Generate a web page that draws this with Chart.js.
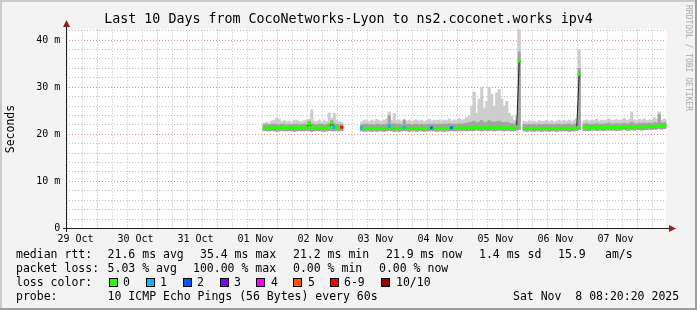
<!DOCTYPE html>
<html><head><meta charset="utf-8">
<script src="https://cdn.jsdelivr.net/npm/chart.js@4"></script>
<style>
html,body{margin:0;padding:0;background:#f3f3f3;}
#wrap{position:relative;width:697px;height:310px;overflow:hidden;}
canvas{position:absolute;left:0;top:0;}
.t{position:absolute;font-family:'DejaVu Sans Mono',monospace;font-size:11.5px;line-height:13px;color:#000;white-space:pre;}
.box{position:absolute;width:7px;height:7px;border:1px solid #000;}
#wm{position:absolute;left:684px;top:5px;font-family:'DejaVu Sans Mono',monospace;font-size:8px;line-height:9px;color:#a8a8a8;writing-mode:vertical-rl;white-space:pre;}
</style></head>
<body><div id="wrap"><canvas id="c" width="697" height="310"></canvas><div id="legend"></div><div id="wm">RRDTOOL / TOBI OETIKER</div></div>
<script>
// ---- data (hours after 29 Oct 00:00, 1 h bins, first bin centre) ----
const firstBinHour = 87.5;
const dayLabels = ['29 Oct','30 Oct','31 Oct','01 Nov','02 Nov','03 Nov','04 Nov','05 Nov','06 Nov','07 Nov'];
const yLabelValues = [0, 10, 20, 30, 40];
const yLabelTexts = ['0', '10 m', '20 m', '30 m', '40 m'];

const median = [
21.4,21.4,21.3,21.4,21.4,21.3,21.4,21.4,21.5,21.4,
21.3,21.4,21.4,21.3,21.4,21.4,21.5,21.4,22.3,21.5,
21.4,21.3,21.4,21.4,21.3,21.4,21.5,22.4,21.5,21.4,
21.4,21.5,
null,null,null,null,null,null,null,
21.4,21.3,21.3,21.2,21.3,21.3,21.2,21.3,21.3,21.2,21.3,
21.7,21.3,21.3,21.2,21.3,21.3,21.5,21.3,21.2,21.3,
21.3,21.2,21.3,21.3,21.2,21.3,21.3,21.4,21.3,21.2,
21.3,21.3,21.2,21.3,21.3,21.4,21.3,21.3,21.4,21.3,
21.4,21.3,21.4,21.4,21.4,21.5,21.4,21.3,21.5,21.4,
21.4,21.5,21.3,21.4,21.5,21.4,21.3,21.4,21.4,21.3,
21.3,21.6,35.6,null,21.3,21.2,21.3,21.3,21.2,21.3,
21.3,21.2,21.3,21.3,21.2,21.3,21.3,21.2,21.3,21.3,
21.3,21.3,21.2,21.3,21.3,21.4,32.8,null,21.5,21.5,
21.4,21.5,21.5,21.4,21.5,21.5,21.4,21.5,21.5,21.5,
21.5,21.4,21.5,21.5,21.6,21.5,21.5,21.6,21.5,21.6,
21.6,21.5,21.6,21.6,21.7,21.6,21.7,21.7,21.8,21.7,
21.8,21.9];

const smokeLow = [
20.8,20.7,20.7,20.8,20.7,20.6,20.7,20.8,20.7,20.7,
20.8,20.7,20.6,20.7,20.8,20.7,20.7,20.8,20.7,20.6,
20.7,20.8,20.7,20.7,20.6,20.7,20.8,20.7,20.7,20.8,
20.7,20.8,
null,null,null,null,null,null,null,
20.7,20.6,20.7,20.7,20.6,20.7,20.6,20.7,20.7,20.6,20.7,
20.8,20.7,20.6,20.7,20.6,20.7,20.8,20.7,20.6,20.7,
20.7,20.6,20.7,20.7,20.6,20.7,20.7,20.8,20.7,20.6,
20.7,20.7,20.6,20.7,20.7,20.8,20.7,20.7,20.8,20.7,
20.8,20.7,20.8,20.8,20.8,20.9,20.8,20.7,20.9,20.8,
20.8,20.9,20.7,20.8,20.9,20.8,20.7,20.8,20.8,20.7,
20.7,20.9,21.0,null,20.7,20.6,20.7,20.7,20.6,20.7,
20.7,20.6,20.7,20.7,20.6,20.7,20.7,20.6,20.7,20.7,
20.7,20.7,20.6,20.7,20.7,20.8,21.0,null,20.8,20.8,
20.8,20.9,20.9,20.8,20.9,20.9,20.8,20.9,20.9,20.9,
20.9,20.8,20.9,20.9,21.0,20.9,20.9,21.0,20.9,21.0,
21.0,20.9,21.0,21.0,21.1,21.0,21.1,21.1,21.2,21.1,
21.2,21.3];

const smokeHigh = [
22.0,22.1,22.0,22.1,22.2,22.1,22.0,22.1,22.2,22.0,
22.1,22.0,22.1,22.2,22.0,22.1,22.2,22.1,22.8,22.3,
22.1,22.0,22.2,22.1,22.0,22.1,22.3,22.9,22.3,22.1,
22.0,22.1,
null,null,null,null,null,null,null,
22.0,22.1,22.2,22.0,22.1,22.0,22.2,22.1,22.0,22.1,22.2,
24.0,22.2,22.3,22.1,22.2,22.0,23.0,22.1,22.2,22.0,
22.1,22.2,22.0,22.1,22.0,22.1,22.2,22.1,22.2,22.1,
22.2,22.1,22.2,22.1,22.3,22.1,22.2,22.1,22.3,22.2,
22.3,22.4,22.5,22.6,22.8,22.4,22.6,22.9,22.5,22.6,
22.9,22.7,22.5,22.7,22.8,22.6,22.5,22.6,22.4,22.3,
22.2,22.8,37.5,null,22.1,22.0,22.1,22.0,22.1,22.0,
22.1,22.0,22.1,22.2,22.0,22.1,22.0,22.1,22.2,22.0,
22.1,22.1,22.2,22.0,22.1,22.3,34.0,null,22.2,22.3,
22.1,22.2,22.2,22.3,22.1,22.2,22.2,22.3,22.4,22.2,
22.2,22.3,22.2,22.3,22.4,22.2,22.3,22.6,22.3,22.2,
22.4,22.3,22.4,22.3,22.4,22.3,22.5,22.4,24.2,22.4,
22.5,22.5];

const smokeTop = [
22.4,22.6,22.3,22.8,23.0,23.4,23.2,22.7,22.9,22.6,
22.8,22.5,22.9,23.0,22.7,22.6,22.9,23.1,23.2,25.2,
22.8,22.7,23.0,22.6,22.9,22.7,24.5,23.4,24.4,23.0,
22.7,22.5,
null,null,null,null,null,null,null,
22.6,22.9,23.1,22.7,23.0,22.8,23.2,22.9,22.7,23.0,23.3,
24.8,23.0,24.4,22.9,23.1,22.7,23.2,22.8,23.0,22.7,
22.9,23.1,22.8,23.0,22.7,22.9,23.2,22.8,23.0,22.9,
23.1,22.8,23.0,22.9,23.3,22.8,23.1,22.9,23.4,23.0,
23.2,23.6,23.9,26.0,29.0,24.5,27.5,30.0,25.5,27.0,
30.0,28.5,26.0,28.8,29.5,27.5,26.0,27.0,24.5,23.8,
23.0,24.0,43.0,null,22.8,22.6,22.9,22.7,22.8,22.6,
22.9,22.7,22.8,23.0,22.7,22.9,22.6,22.8,23.0,22.7,
22.9,22.8,23.1,22.7,23.0,23.4,38.0,null,22.9,23.1,
22.8,23.0,22.9,23.2,22.8,23.0,22.9,23.1,23.3,22.9,
23.0,23.2,22.9,23.1,23.4,23.0,23.2,24.8,23.1,22.9,
23.2,23.0,23.3,22.9,23.1,23.0,23.5,23.2,24.8,23.0,
23.3,23.1];

// loss class per bin: index into lossColors / lossLabels
const lossClass = [
0,0,0,0,0,0,0,0,0,0, 0,0,0,0,0,0,0,0,0,0, 0,0,0,0,0,0,0,0,1,0, 0,6,
0,0,0,0,0,0,0,
1,0,0,0,0,0,0,0,0,0,0,
1,0,0,0,0,0,1,0,0,0, 0,0,0,0,0,0,0,2,0,0, 0,0,0,0,0,2,0,0,0,0,
0,0,0,0,0,0,0,0,0,0, 0,0,0,0,0,0,0,0,0,0, 0,0,0,0,0,0,0,0,0,0,
0,0,0,0,0,0,0,0,0,0, 0,0,0,0,0,0,0,0,0,0, 0,0,0,0,0,0,0,0,0,0,
0,0,0,0,0,0,0,0,0,0, 0,0,0,0,0,0,0,0,0,0, 0,0];

const lossColors = ['#26ff00','#00b8ff','#0059ff','#7e00ff','#ff00ff','#ff5500','#ff0000','#a10000'];
const lossLabels = ['0','1','2','3','4','5','6-9','10/10'];

// ---- build datasets ----
const hours = median.map((_, i) => firstBinHour + i);
function floating(lo, hi) {
  const out = [];
  hours.forEach((h, i) => { if (lo[i] != null && hi[i] != null) out.push({x: h, y: [lo[i], hi[i]]}); });
  return out;
}
const bandHalf = 0.25;
const bandData = [];
hours.forEach((h, i) => { if (median[i] != null) bandData.push({x: h, y: [median[i] - bandHalf, median[i] + bandHalf], loss: lossClass[i]}); });
const lineData = hours.map((h, i) => ({x: h, y: median[i]}));

const FONT = 'DejaVu Sans Mono';
const MINOR = 'rgba(185,185,185,0.9)';
const MAJOR = 'rgba(230,130,130,0.9)';

const decor = {
  id: 'decor',
  beforeDraw(chart) {
    const {ctx, chartArea: a} = chart;
    ctx.save();
    ctx.fillStyle = '#f3f3f3'; ctx.fillRect(0, 0, 697, 310);
    ctx.fillStyle = '#cbcbcb'; ctx.fillRect(0, 0, 697, 2); ctx.fillRect(0, 0, 2, 310);
    ctx.fillStyle = '#9c9c9c'; ctx.fillRect(695, 0, 2, 310); ctx.fillRect(0, 308, 697, 2);
    ctx.fillStyle = '#ffffff'; ctx.fillRect(a.left, a.top, a.right - a.left, a.bottom - a.top);
    ctx.restore();
  },
  afterDraw(chart) {
    const {ctx, chartArea: a} = chart;
    const x0 = Math.floor(a.left), y0 = Math.floor(a.bottom);
    ctx.save();
    ctx.fillStyle = '#202020';
    ctx.fillRect(x0 - 3, y0, Math.round(a.right) - x0 + 7, 1);
    ctx.fillRect(x0, Math.round(a.top) - 4, 1, y0 - Math.round(a.top) + 8);
    ctx.fillStyle = '#961e1e';
    ctx.beginPath();
    ctx.moveTo(x0 + 0.5, 20); ctx.lineTo(x0 - 3, 27); ctx.lineTo(x0 + 4, 27); ctx.closePath(); ctx.fill();
    const xr = Math.round(a.right) + 3;
    ctx.beginPath();
    ctx.moveTo(xr + 7, y0 + 0.5); ctx.lineTo(xr, y0 - 3); ctx.lineTo(xr, y0 + 4); ctx.closePath(); ctx.fill();
    ctx.restore();
  }
};

const xTicks = []; for (let v = 12; v <= 246; v += 6) xTicks.push(v);
const yTicks = []; for (let v = 0; v <= 42; v += 2) yTicks.push(v);

new Chart(document.getElementById('c'), {
  type: 'bar',
  data: { datasets: [
    { type: 'bar', data: bandData, yAxisID: 'y', grouped: false, order: 0, borderWidth: 0,
      backgroundColor: c => lossColors[(c.raw && c.raw.loss) || 0],
      barPercentage: 1, categoryPercentage: 1 },
    { type: 'line', data: lineData, yAxisID: 'y', order: 1, borderColor: '#202020', borderWidth: 1,
      pointRadius: 0, tension: 0, spanGaps: false, fill: false },
    { type: 'bar', data: floating(smokeLow, smokeHigh), yAxisID: 'y', grouped: false, order: 2, borderWidth: 0,
      backgroundColor: '#a2a2a2', barPercentage: 1, categoryPercentage: 1 },
    { type: 'bar', data: floating(smokeLow, smokeTop), yAxisID: 'y', grouped: false, order: 3, borderWidth: 0,
      backgroundColor: '#cdcdcd', barPercentage: 1, categoryPercentage: 1 }
  ]},
  options: {
    responsive: false, animation: false, devicePixelRatio: 1,
    layout: { padding: { left: 0, right: 0, top: 0, bottom: 61.5 } },
    plugins: {
      legend: { display: false }, tooltip: { enabled: false },
      title: { display: true, text: 'Last 10 Days from CocoNetworks-Lyon to ns2.coconet.works ipv4',
        color: '#000', font: { family: FONT, size: 13.3, weight: 'normal' }, padding: { top: 11.2, bottom: 2.4 } }
    },
    scales: {
      x: { type: 'linear', min: 8.3333, max: 248.3333, offset: false,
        afterBuildTicks: s => { s.ticks = xTicks.map(v => ({value: v})); },
        afterFit: s => { s.height = 20; },
        grid: { drawTicks: false, lineWidth: 1, color: c => (c.tick && c.tick.value % 24 === 0) ? MAJOR : MINOR },
        border: { display: false, dash: [1, 2] },
        ticks: { autoSkip: false, maxRotation: 0, minRotation: 0, padding: 5, color: '#000',
          font: { family: FONT, size: 10 },
          callback: v => (v % 24 === 12) ? dayLabels[(v - 12) / 24] : '' } },
      y: { type: 'linear', position: 'left', min: 0, max: 42.25,
        afterBuildTicks: s => { s.ticks = yTicks.map(v => ({value: v})); },
        afterFit: s => { s.width = 66.33; },
        grid: { drawTicks: false, lineWidth: 1, color: c => (c.tick && c.tick.value % 10 === 0) ? MAJOR : MINOR },
        border: { display: false, dash: [1, 2] },
        title: { display: true, text: 'Seconds', color: '#000', font: { family: FONT, size: 11.5 }, padding: { top: 4, bottom: 0 } },
        ticks: { autoSkip: false, padding: 6, color: '#000', font: { family: FONT, size: 10 },
          callback: v => { const k = yLabelValues.indexOf(v); return k >= 0 ? yLabelTexts[k] : ''; } } },
      yr: { type: 'linear', position: 'right', min: 0, max: 1,
        afterFit: s => { s.width = 30.67; },
        grid: { display: false }, border: { display: false },
        ticks: { display: false } }
    }
  },
  plugins: [decor]
});

// ---- legend (HTML text) ----
const legendRows = [
  { top: 248, items: [[16,'median rtt:'],[107.6,'21.6 ms avg'],[200,'35.4 ms max'],[293,'21.2 ms min'],[386,'21.9 ms now'],[479,'1.4 ms sd'],[558,'15.9'],[605,'am/s']] },
  { top: 262, items: [[16,'packet loss:'],[107.6,'5.03 % avg'],[193,'100.00 % max'],[293,'0.00 % min'],[379,'0.00 % now']] },
  { top: 276, items: [[16,'loss color:']] },
  { top: 289.5, items: [[16,'probe:'],[107.6,'10 ICMP Echo Pings (56 Bytes) every 60s'],[513,'Sat Nov  8 08:20:20 2025']] }
];
const boxX = [109,146,183,220,256,293,330,381];
const boxLabelX = [123,160,197,234,271,308,344,396];
const lg = document.getElementById('legend');
legendRows.forEach(r => r.items.forEach(([x, t]) => {
  const d = document.createElement('div'); d.className = 't'; d.style.left = x + 'px'; d.style.top = r.top + 'px'; d.textContent = t; lg.appendChild(d);
}));
lossLabels.forEach((t, i) => {
  const b = document.createElement('div'); b.className = 'box'; b.style.left = boxX[i] + 'px'; b.style.top = '278px'; b.style.background = lossColors[i]; lg.appendChild(b);
  const d = document.createElement('div'); d.className = 't'; d.style.left = boxLabelX[i] + 'px'; d.style.top = '276px'; d.textContent = t; lg.appendChild(d);
});
</script>
</body></html>
